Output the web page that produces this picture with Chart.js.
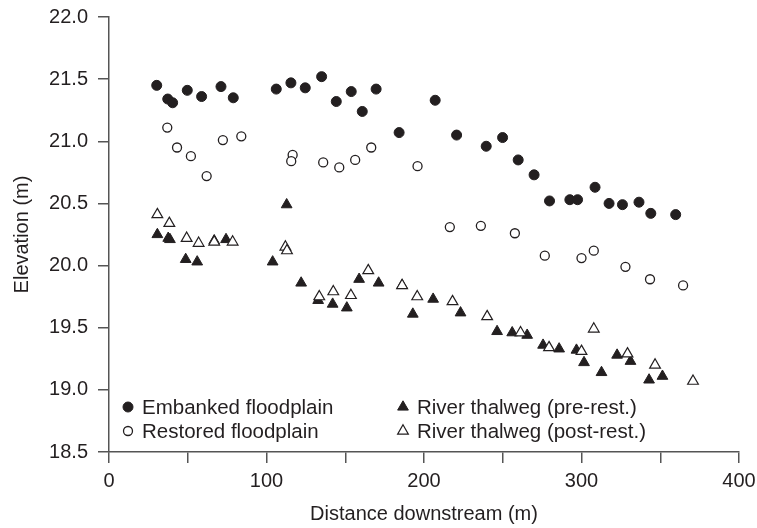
<!DOCTYPE html>
<html>
<head>
<meta charset="utf-8">
<script src="https://cdn.jsdelivr.net/npm/chart.js@4"></script>
<style>
  html,body{margin:0;padding:0;background:#fff;}
  #wrap{width:757px;height:528px;}
</style>
</head>
<body>
<div id="wrap"><canvas id="profile"></canvas></div>
<script>
// distance downstream (m) and elevation (m)
const embankedX = [30.3,37.3,40.4,49.7,58.8,71.1,78.9,106.2,115.5,124.6,135,144.3,153.8,160.8,169.6,184.2,207.1,220.7,239.5,249.9,259.8,269.9,279.7,292.6,297.5,308.6,317.5,326,336.5,344,359.8];
const embankedY = [21.45,21.34,21.31,21.41,21.36,21.44,21.35,21.42,21.47,21.43,21.52,21.32,21.40,21.24,21.42,21.07,21.33,21.05,20.96,21.03,20.85,20.73,20.52,20.53,20.53,20.63,20.50,20.49,20.51,20.42,20.41];

const restoredX = [37,43.2,52,62,72.3,84,116.6,115.7,136,146.2,156.3,166.5,195.9,216.4,236.1,257.7,276.7,300,307.8,327.9,343.5,364.5];
const restoredY = [21.11,20.95,20.88,20.72,21.01,21.04,20.89,20.84,20.83,20.79,20.85,20.95,20.80,20.31,20.32,20.26,20.08,20.06,20.12,19.99,19.89,19.84];

const preX = [30.7,37.6,38.7,48.7,56,66.8,74.3,103.9,112.8,122,132.8,142,151,158.8,171.2,186.1,192.9,205.8,223.2,246.4,256,265.5,275.6,285.8,296.8,301.6,312.7,322.6,331.1,342.9,351.4];
const preY = [20.25,20.22,20.21,20.05,20.03,20.20,20.21,20.03,20.49,19.86,19.72,19.69,19.66,19.89,19.86,19.84,19.61,19.73,19.62,19.47,19.46,19.44,19.36,19.33,19.32,19.22,19.14,19.28,19.23,19.08,19.11];

const postX = [30.7,38.3,49.3,56.9,66.8,78.5,112,113,133.5,142.4,153.6,164.6,186.1,195.7,218.1,240.1,261.3,279.4,300,307.8,329.2,346.7,370.8];
const postY = [20.41,20.34,20.22,20.18,20.19,20.19,20.15,20.12,19.75,19.79,19.76,19.96,19.84,19.75,19.71,19.59,19.46,19.34,19.31,19.49,19.29,19.20,19.07];

const labels = ['Embanked floodplain','Restored floodplain','River thalweg (pre-rest.)','River thalweg (post-rest.)'];
const xTicks = [0,100,200,300,400];

const ink = '#231f20';
const font = 'Liberation Sans, Arial, Helvetica, sans-serif';

function pts(xs, ys){ return xs.map((x,i)=>({x:x, y:ys[i]})); }

// legend drawn inside the plot, two columns like the original figure
const innerLegend = {
  id:'innerLegend',
  afterDatasetsDraw(chart){
    const ctx = chart.ctx, a = chart.chartArea;
    const slots = [[a.left+19,a.bottom-45],[a.left+19,a.bottom-21],[a.left+294,a.bottom-45],[a.left+294,a.bottom-21]];
    ctx.save();
    chart.data.datasets.forEach((ds,i)=>{
      const [x,y] = slots[i];
      ctx.fillStyle = ds.pointBackgroundColor;
      ctx.strokeStyle = ds.pointBorderColor;
      ctx.lineWidth = ds.pointBorderWidth;
      Chart.helpers.drawPoint(ctx, {pointStyle:ds.pointStyle, radius:ds.pointRadius, rotation:0, borderWidth:ds.pointBorderWidth}, x, y);
      ctx.fillStyle = ink;
      ctx.font = '20.5px ' + font;
      ctx.textBaseline = 'middle';
      ctx.fillText(ds.label, x+14, y+1);
    });
    ctx.restore();
  }
};

new Chart(document.getElementById('profile'), {
  type:'scatter',
  data:{ datasets:[
    { label:labels[0], data:pts(embankedX,embankedY), pointStyle:'circle', pointRadius:5, pointBackgroundColor:ink, pointBorderColor:ink, pointBorderWidth:1, order:2 },
    { label:labels[1], data:pts(restoredX,restoredY), pointStyle:'circle', pointRadius:4.5, pointBackgroundColor:'#fff', pointBorderColor:ink, pointBorderWidth:1.3, order:2 },
    { label:labels[2], data:pts(preX,preY), pointStyle:'triangle', pointRadius:6.2, pointBackgroundColor:ink, pointBorderColor:ink, pointBorderWidth:1, order:1 },
    { label:labels[3], data:pts(postX,postY), pointStyle:'triangle', pointRadius:6.2, pointBackgroundColor:'#fff', pointBorderColor:ink, pointBorderWidth:1.2, order:0 }
  ]},
  options:{
    responsive:true, maintainAspectRatio:false, animation:false,
    layout:{ padding:{ top:17, right:18, left:0, bottom:0 } },
    plugins:{ legend:{display:false}, tooltip:{enabled:false} },
    scales:{
      x:{
        type:'linear', min:0, max:400,
        afterFit(s){ s.height = 76; s.paddingLeft = 0; s.paddingRight = 0; },
        ticks:{ stepSize:50, color:ink, font:{family:font, size:20}, padding:6, maxRotation:0,
          callback:v => xTicks.includes(v) ? String(v) : '' },
        grid:{ drawOnChartArea:false, drawTicks:true, tickLength:11, color:'#555', lineWidth:1.5 },
        border:{ display:true, color:'#555', width:1.5 },
        title:{ display:true, text:'Distance downstream (m)', color:ink, font:{family:font, size:20}, padding:{top:0, bottom:2} }
      },
      y:{
        min:18.5, max:22,
        afterFit(s){ s.width = 109; s.paddingTop = 0; s.paddingBottom = 0; },
        ticks:{ stepSize:0.5, color:ink, font:{family:font, size:20}, padding:10, callback:v => v.toFixed(1) },
        grid:{ drawOnChartArea:false, drawTicks:true, tickLength:11, color:'#555', lineWidth:1.5 },
        border:{ display:true, color:'#555', width:1.5 },
        title:{ display:true, text:'Elevation (m)', color:ink, font:{family:font, size:20}, padding:{top:10, bottom:0} }
      }
    }
  },
  plugins:[innerLegend]
});
</script>
</body>
</html>
